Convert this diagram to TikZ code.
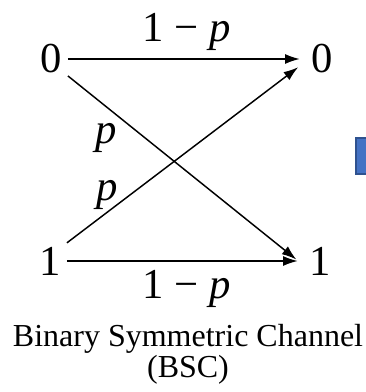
\documentclass[tikz,border=0pt]{standalone}
\usepackage{fontspec}
\setmainfont{Liberation Serif}
\usetikzlibrary{arrows.meta}
\definecolor{tabfill}{HTML}{4472C4}
\definecolor{tabline}{HTML}{2F528F}
\begin{document}
\begin{tikzpicture}[x=0.75pt,y=-0.75pt,
  bit/.style={font=\fontsize{32}{32}\selectfont, inner sep=4.5pt},
  prob/.style={font=\fontsize{32}{32}\selectfont, inner sep=0pt},
  link/.style={-{Latex[length=11pt,width=7.5pt]}, line width=1.1pt, shorten >=4pt},
  cross/.style={link, shorten >=6.5pt}]
\useasboundingbox (0,0) rectangle (366,392);
% input and output symbols
\node[bit] (in0) at (51,59) {0};
\node[bit] (in1) at (50,261) {1};
\node[bit] (out0) at (322,59) {0};
\node[bit] (out1) at (320,261) {1};
% transitions
\draw[link] (in0) -- (out0);
\draw[link] (in1) -- (out1);
\draw[cross] (in0.-45) -- (out1.193);
\draw[cross] (in1.47) -- (out0.190);
% probabilities
\node[prob] (top) at (187,32) {1 − \textit{p}};
\node[prob] (bot) at (187,289) {1 − \textit{p}};
\node[prob] (pdown) at (106,138) {\textit{p}};
\node[prob] (pup) at (107,195) {\textit{p}};
% caption
\node[inner sep=0pt, align=center, font=\fontsize{24}{23.5}\selectfont] (cap) at (188,354.5)
  {Binary Symmetric Channel\\(BSC)};
% cut-off box at the right edge
\draw[tabline, fill=tabfill, line width=1.5pt] (356,138) rectangle (374,174);
\end{tikzpicture}
\end{document}
